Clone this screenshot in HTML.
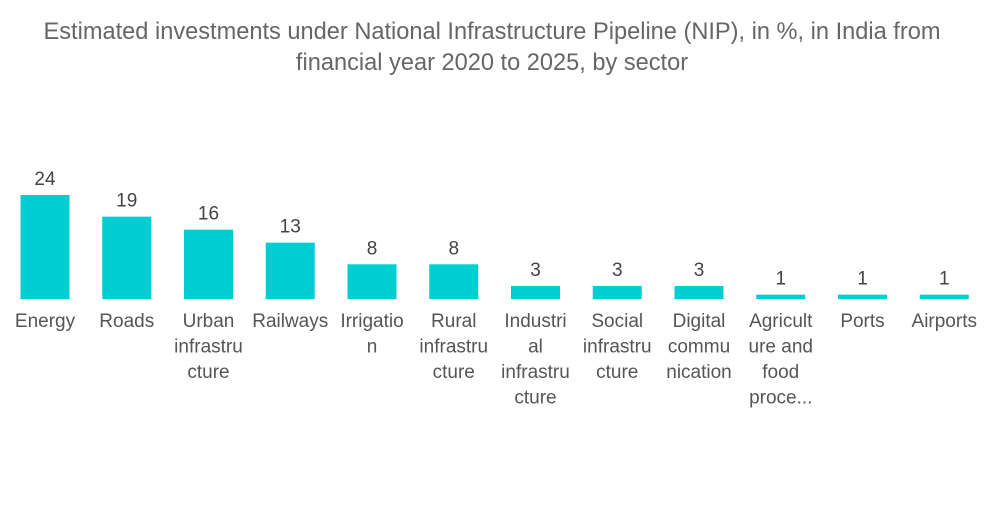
<!DOCTYPE html>
<html><head><meta charset="utf-8"><style>
body{margin:0;background:#fff;width:1000px;height:504px;overflow:hidden;font-family:"Liberation Sans",sans-serif}
</style></head><body>
<svg width="1000" height="504">
<text x="492" y="39" text-anchor="middle" font-size="23.6" fill="#666">Estimated investments under National Infrastructure Pipeline (NIP), in %, in India from</text>
<text x="492" y="70" text-anchor="middle" font-size="23.6" fill="#666">financial year 2020 to 2025, by sector</text>
<g id="bars"></g>
</svg>
<script>
const categories=[["Energy"],["Roads"],["Urban","infrastru","cture"],["Railways"],["Irrigatio","n"],["Rural","infrastru","cture"],["Industri","al","infrastru","cture"],["Social","infrastru","cture"],["Digital","commu","nication"],["Agricult","ure and","food","proce..."],["Ports"],["Airports"]];
const values=[24,19,16,13,8,8,3,3,3,1,1,1];
const g=document.getElementById('bars');
const NS='http://www.w3.org/2000/svg';
const base=299, scale=104/24, x0=45, step=81.75, bw=49;
const yPos=v=>base-v*scale;
values.forEach((v,i)=>{
  const cx=x0+i*step;
  const r=document.createElementNS(NS,'rect');
  
  
  r.setAttribute('x',cx-bw/2);r.setAttribute('y',yPos(v));r.setAttribute('width',bw);r.setAttribute('height',Math.max(base-yPos(v),3));
  r.setAttribute('fill','#00CED1');g.appendChild(r);
  const t=document.createElementNS(NS,'text');
  
  
  t.setAttribute('x',cx);t.setAttribute('y',yPos(v)-10);t.setAttribute('text-anchor','middle');
  t.setAttribute('font-size','19');t.setAttribute('fill','#444');t.textContent=v;g.appendChild(t);
  categories[i].forEach((line,j)=>{
    const c=document.createElementNS(NS,'text');
    
    
    c.setAttribute('x',cx);c.setAttribute('y',327+j*25.5);c.setAttribute('text-anchor','middle');
    c.setAttribute('font-size','19');c.setAttribute('fill','#555');c.textContent=line;g.appendChild(c);
  });
});
</script>
</body></html>
